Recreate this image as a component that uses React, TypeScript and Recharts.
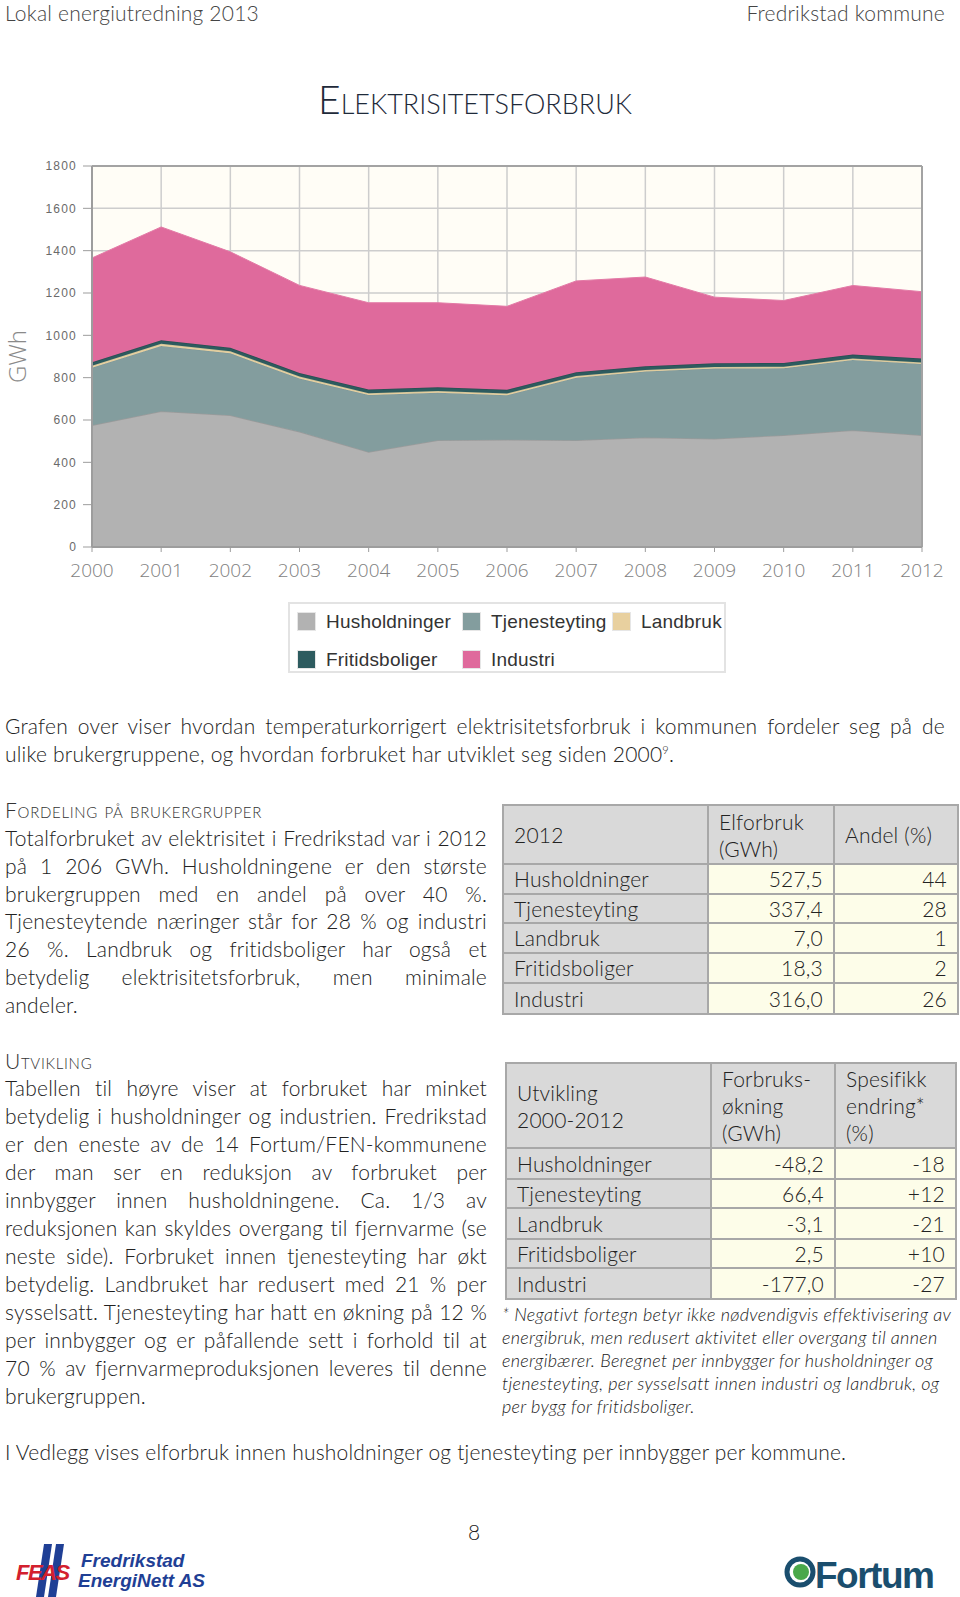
import { AreaChart, Area, XAxis, YAxis, CartesianGrid, Legend, ReferenceLine } from "recharts";

// elforbruk (GWh), temperaturkorrigert
const YEARS = [2000, 2001, 2002, 2003, 2004, 2005, 2006, 2007, 2008, 2009, 2010, 2011, 2012];
const HUSHOLDNINGER = [575.7, 641, 622, 544, 449, 504, 507, 504, 517, 511, 528, 552, 527.5];
const TJENESTEYTING = [271, 309, 293, 252, 269, 225, 210, 296, 312, 332, 316, 332, 337.4];
const LANDBRUK = [10.1, 10, 9.5, 9, 8.5, 8.5, 8, 8, 7.5, 7.5, 7.5, 7, 7.0];
const FRITIDSBOLIGER = [15.8, 17, 17, 17, 17.5, 17.5, 18, 18, 18, 18, 18, 18.5, 18.3];
const INDUSTRI = [493, 535, 453, 414, 410, 399, 394, 431, 421, 312, 295, 326, 316];
const Y_TICKS = [0, 200, 400, 600, 800, 1000, 1200, 1400, 1600, 1800];

const GROUPS = ["Husholdninger", "Tjenesteyting", "Landbruk", "Fritidsboliger", "Industri"];
const FORBRUK_2012 = ["527,5", "337,4", "7,0", "18,3", "316,0"];
const ANDEL_2012 = ["44", "28", "1", "2", "26"];
const OKNING_GWH = ["-48,2", "66,4", "-3,1", "2,5", "-177,0"];
const ENDRING_PST = ["-18", "+12", "-21", "+10", "-27"];

const SERIES = [
  { key: "hus", name: "Husholdninger", values: HUSHOLDNINGER, fill: "#b2b2b2", stroke: "#9b9b9b", sw: 1.5 },
  { key: "tje", name: "Tjenesteyting", values: TJENESTEYTING, fill: "#839d9e", stroke: "#7c9697", sw: 1 },
  { key: "lan", name: "Landbruk", values: LANDBRUK, fill: "#e8d09f", stroke: "#cfc49a", sw: 1.5 },
  { key: "fri", name: "Fritidsboliger", values: FRITIDSBOLIGER, fill: "#2d5b5f", stroke: "#2a4f52", sw: 1.5 },
  { key: "ind", name: "Industri", values: INDUSTRI, fill: "#df6a9c", stroke: "#e37aa6", sw: 1 },
];

const data = YEARS.map((year, i) => {
  const row: Record<string, number> = { year };
  SERIES.forEach((s) => { row[s.key] = s.values[i]; });
  return row;
});

const INTRO = [
  "Grafen over viser hvordan temperaturkorrigert elektrisitetsforbruk i kommunen fordeler seg på de",
  "ulike brukergruppene, og hvordan forbruket har utviklet seg siden 2000",
];
const FORDELING = [
  "Totalforbruket av elektrisitet i Fredrikstad var i 2012",
  "på 1 206 GWh. Husholdningene er den største",
  "brukergruppen med en andel på over 40 %.",
  "Tjenesteytende næringer står for 28 % og industri",
  "26 %. Landbruk og fritidsboliger har også et",
  "betydelig elektrisitetsforbruk, men minimale",
  "andeler.",
];
const UTVIKLING = [
  "Tabellen til høyre viser at forbruket har minket",
  "betydelig i husholdninger og industrien. Fredrikstad",
  "er den eneste av de 14 Fortum/FEN-kommunene",
  "der man ser en reduksjon av forbruket per",
  "innbygger innen husholdningene. Ca. 1/3 av",
  "reduksjonen kan skyldes overgang til fjernvarme (se",
  "neste side). Forbruket innen tjenesteyting har økt",
  "betydelig. Landbruket har redusert med 21 % per",
  "sysselsatt. Tjenesteyting har hatt en økning på 12 %",
  "per innbygger og er påfallende sett i forhold til at",
  "70 % av fjernvarmeproduksjonen leveres til denne",
  "brukergruppen.",
];
const FOOTNOTE = [
  "* Negativt fortegn betyr ikke nødvendigvis effektivisering av",
  "energibruk, men redusert aktivitet eller overgang til annen",
  "energibærer. Beregnet per innbygger for husholdninger og",
  "tjenesteyting, per sysselsatt innen industri og landbruk, og",
  "per bygg for fritidsboliger.",
];

const FONT = "Lato, 'Open Sans', sans-serif";
const TEXT = "#222";
const BODY = { fontSize: 21, letterSpacing: 0.2 };

const LEGEND_POS = [
  { x: 7, y: 8 }, { x: 172, y: 8 }, { x: 322, y: 8 },
  { x: 7, y: 46 }, { x: 172, y: 46 },
];

function ChartLegend() {
  return (
    <div style={{
      position: "relative", width: 438, height: 71, boxSizing: "border-box",
      border: "2px solid #e3e3e3", background: "#fff",
      fontFamily: "'Liberation Sans', Arial, sans-serif", fontSize: 19, letterSpacing: 0.2, color: "#333",
    }}>
      {SERIES.map((s, i) => (
        <div key={s.key} style={{ position: "absolute", left: LEGEND_POS[i].x, top: LEGEND_POS[i].y, display: "flex", alignItems: "center", whiteSpace: "nowrap" }}>
          <span style={{ width: 17, height: 17, background: s.fill, border: "1px solid #e6e6e6", marginRight: 10 }} />
          <span style={{ lineHeight: "19px" }}>{s.name}</span>
        </div>
      ))}
    </div>
  );
}

function Lines({ lines, left, top, width, lh, style, sup, ragged }: any) {
  return (
    <div style={{ position: "absolute", left, top, width, lineHeight: `${lh}px`, ...style }}>
      {lines.map((l: string, i: number) => {
        const last = ragged || i === lines.length - 1;
        return (
          <div key={i} style={{ whiteSpace: "nowrap", textAlign: last ? "left" : "justify", textAlignLast: last ? "left" : "justify" } as any}>
            {l}
            {i === lines.length - 1 && sup ? <><sup style={{ fontSize: 11, lineHeight: 0 }}>{sup}</sup>.</> : null}
          </div>
        );
      })}
    </div>
  );
}

const cellBorder = "2px solid #a8a8a8";

function DataTable({ left, top, cols, rows, header, values }: any) {
  return (
    <table style={{
      position: "absolute", left, top, borderCollapse: "collapse", tableLayout: "fixed",
      fontFamily: FONT, fontWeight: 300, ...BODY, color: TEXT,
    }}>
      <colgroup>{cols.map((w: number, i: number) => <col key={i} style={{ width: w }} />)}</colgroup>
      <tbody>
        <tr style={{ height: rows[0] }}>
          {header.map((h: string[], i: number) => (
            <td key={i} style={{ border: cellBorder, background: "#d9d9d9", padding: "0 10px", lineHeight: "27px", verticalAlign: "middle" }}>
              {h.map((t, j) => <div key={j}>{t}</div>)}
            </td>
          ))}
        </tr>
        {GROUPS.map((g, r) => (
          <tr key={g} style={{ height: rows[r + 1] }}>
            <td style={{ border: cellBorder, background: "#d9d9d9", padding: "0 10px", lineHeight: "24px" }}>{g}</td>
            {values.map((col: string[], c: number) => (
              <td key={c} style={{ border: cellBorder, background: "#fdfde9", padding: "0 10px", textAlign: "right", lineHeight: "24px" }}>{col[r]}</td>
            ))}
          </tr>
        ))}
      </tbody>
    </table>
  );
}

export default function App() {
  return (
    <div style={{ position: "absolute", left: 0, top: 0, width: 960, height: 1597, overflow: "hidden", background: "#fff", fontFamily: FONT, fontWeight: 300, color: TEXT }}>
      {/* topptekst */}
      <div style={{ position: "absolute", left: 5, top: 0, fontSize: 21, letterSpacing: 0.2, lineHeight: "26px", color: "#444" }}>Lokal energiutredning 2013</div>
      <div style={{ position: "absolute", right: 15, top: 0, fontSize: 21, letterSpacing: 0.2, lineHeight: "26px", color: "#444" }}>Fredrikstad kommune</div>
      <div style={{ position: "absolute", left: 0, width: 950, top: 76, textAlign: "center", fontSize: 39, lineHeight: "46px", fontVariant: "small-caps", color: "#1e2a3a" }}>Elektrisitetsforbruk</div>

      <div style={{ position: "absolute", left: 0, top: 150 }}>
        <AreaChart width={960} height={540} data={data} margin={{ top: 16, right: 38, bottom: 83, left: 0 }}>
          <CartesianGrid stroke="#cdcdcd" strokeWidth={1.5} fill="#fffdf6" />
          <XAxis
            dataKey="year" type="number" domain={[2000, 2012]} ticks={YEARS} height={60}
            axisLine={{ stroke: "#9d9d9d", strokeWidth: 2 }} tickLine={{ stroke: "#9d9d9d" }} tickSize={5} tickMargin={12}
            tick={{ fill: "#7e7e7e", fontSize: 19, fontFamily: "'Open Sans', sans-serif" }}
          />
          <YAxis
            domain={[0, 1800]} ticks={Y_TICKS} width={92} interval={0}
            axisLine={{ stroke: "#9d9d9d", strokeWidth: 2 }} tickLine={{ stroke: "#9d9d9d" }} tickSize={9} tickMargin={6}
            tick={{ fill: "#6a6a6a", fontSize: 12, fontFamily: "'Liberation Sans', Arial", letterSpacing: 1.2 }}
            label={{ value: "GWh", angle: -90, position: "center", dx: -29, fill: "#8a8a8a", fontSize: 24, fontFamily: "'Open Sans', sans-serif" }}
          />
          {SERIES.map((s) => (
            <Area
              key={s.key} dataKey={s.key} name={s.name} stackId="1" type="linear"
              fill={s.fill} fillOpacity={1} stroke={s.stroke} strokeWidth={s.sw}
              dot={false} activeDot={false} isAnimationActive={false}
            />
          ))}
          <ReferenceLine y={1800} stroke="#a3a3a3" strokeWidth={2} />
          <ReferenceLine x={2012} stroke="#a3a3a3" strokeWidth={2} />
          <Legend
            layout="horizontal" verticalAlign="middle" align="center"
            wrapperStyle={{ left: 288, top: 452, width: 438, height: 71 }}
            content={() => <ChartLegend />}
          />
        </AreaChart>
      </div>

      <Lines lines={INTRO} left={5} top={712} width={940} lh={28} style={BODY} sup="9" />

      <div style={{ position: "absolute", left: 5, top: 797, fontSize: 21, letterSpacing: 0.7, lineHeight: "26px", fontVariant: "small-caps", color: "#333" }}>Fordeling på brukergrupper</div>
      <Lines lines={FORDELING} left={5} top={824} width={482} lh={27.8} style={BODY} />

      <DataTable
        left={502} top={804} cols={[205, 126, 124]} rows={[59, 30, 29, 30, 30, 31]}
        header={[["2012"], ["Elforbruk", "(GWh)"], ["Andel (%)"]]}
        values={[FORBRUK_2012, ANDEL_2012]}
      />

      <div style={{ position: "absolute", left: 5, top: 1048, fontSize: 21, letterSpacing: 0.7, lineHeight: "26px", fontVariant: "small-caps", color: "#333" }}>Utvikling</div>
      <Lines lines={UTVIKLING} left={5} top={1074} width={482} lh={28} style={BODY} />

      <DataTable
        left={505} top={1062} cols={[205, 124, 121]} rows={[85, 31, 29, 31, 29, 31]}
        header={[["Utvikling", "2000-2012"], ["Forbruks-", "økning", "(GWh)"], ["Spesifikk", "endring*", "(%)"]]}
        values={[OKNING_GWH, ENDRING_PST]}
      />
      <Lines lines={FOOTNOTE} left={502} top={1303} width={455} lh={23} ragged style={{ fontSize: 18, letterSpacing: 0.3, fontStyle: "italic" }} />

      <div style={{ position: "absolute", left: 5, top: 1438, ...BODY, lineHeight: "28px" }}>I Vedlegg vises elforbruk innen husholdninger og tjenesteyting per innbygger per kommune.</div>
      <div style={{ position: "absolute", left: 464, top: 1518, width: 20, textAlign: "center", fontSize: 21, lineHeight: "28px" }}>8</div>

      {/* logoer */}
      <svg style={{ position: "absolute", left: 14, top: 1544 }} width={200} height={53}>
        <polygon points="30,0 38,0 30,53 22,53" fill="#1f3f95" />
        <polygon points="42,0 50,0 42,53 34,53" fill="#1f3f95" />
        <text x="2" y="36" fill="#d3202e" fontFamily="'Liberation Sans', Arial" fontWeight="700" fontStyle="italic" fontSize="22" letterSpacing="-1.5">FEAS</text>
        <text x="67" y="23" fill="#1f3f95" fontFamily="'Liberation Sans', Arial" fontWeight="700" fontStyle="italic" fontSize="19">Fredrikstad</text>
        <text x="64" y="43" fill="#1f3f95" fontFamily="'Liberation Sans', Arial" fontWeight="700" fontStyle="italic" fontSize="19">EnergiNett AS</text>
      </svg>
      <svg style={{ position: "absolute", left: 784, top: 1545 }} width={170} height={52}>
        <circle cx="16" cy="27" r="13" fill="none" stroke="#1a4e6e" strokeWidth="5" />
        <circle cx="17" cy="27" r="8" fill="#4aa84a" />
        <text x="31" y="43" fill="#1a4e6e" fontFamily="'Liberation Sans Narrow', 'Liberation Sans', Arial" fontWeight="700" fontSize="37" letterSpacing="-1.5">Fortum</text>
      </svg>
    </div>
  );
}
